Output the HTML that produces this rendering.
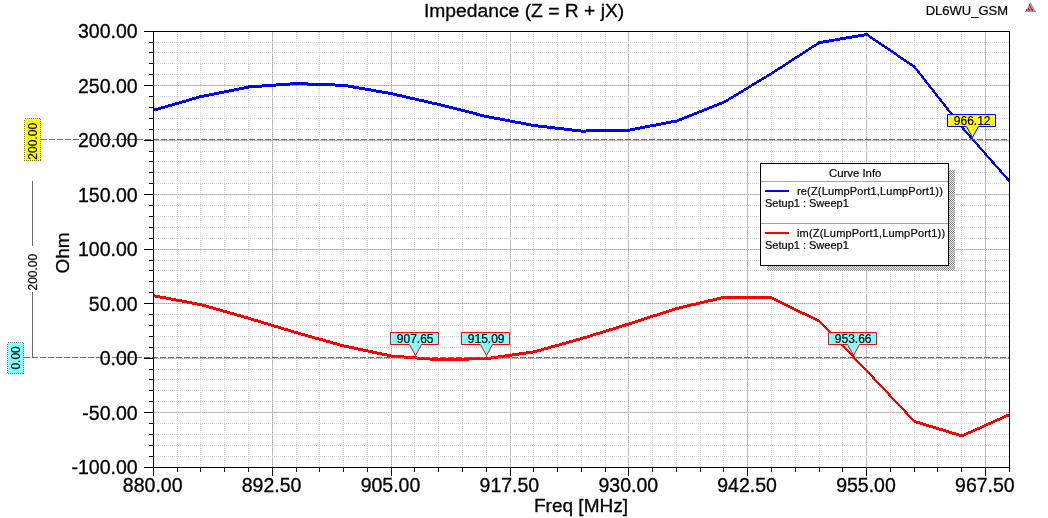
<!DOCTYPE html>
<html><head><meta charset="utf-8"><title>Impedance</title>
<style>html,body{margin:0;padding:0;background:#fff;overflow:hidden;}svg{display:block;will-change:transform;}text{font-family:"Liberation Sans",sans-serif;fill:#000;stroke:#000;stroke-width:0.3px;}text.s{stroke-width:0.2px;}</style></head><body>
<svg width="1048" height="518" viewBox="0 0 1048 518">
<rect x="0" y="0" width="1048" height="518" fill="#fff"/>
<g shape-rendering="crispEdges" fill="none" stroke-width="1">
<line x1="177.5" y1="32.0" x2="177.5" y2="467.5" stroke="#d4d4d8" stroke-dasharray="1 1"/>
<line x1="200.5" y1="32.0" x2="200.5" y2="467.5" stroke="#d4d4d8" stroke-dasharray="1 1"/>
<line x1="224.5" y1="32.0" x2="224.5" y2="467.5" stroke="#d4d4d8" stroke-dasharray="1 1"/>
<line x1="248.5" y1="32.0" x2="248.5" y2="467.5" stroke="#d4d4d8" stroke-dasharray="1 1"/>
<line x1="272.5" y1="31.5" x2="272.5" y2="467.5" stroke="#d2cad2"/>
<line x1="272.5" y1="31.5" x2="272.5" y2="467.5" stroke="#b0a4b0" stroke-dasharray="1 1"/>
<line x1="296.5" y1="32.0" x2="296.5" y2="467.5" stroke="#d4d4d8" stroke-dasharray="1 1"/>
<line x1="319.5" y1="32.0" x2="319.5" y2="467.5" stroke="#d4d4d8" stroke-dasharray="1 1"/>
<line x1="343.5" y1="32.0" x2="343.5" y2="467.5" stroke="#d4d4d8" stroke-dasharray="1 1"/>
<line x1="367.5" y1="32.0" x2="367.5" y2="467.5" stroke="#d4d4d8" stroke-dasharray="1 1"/>
<line x1="391.5" y1="31.5" x2="391.5" y2="467.5" stroke="#d2cad2"/>
<line x1="391.5" y1="31.5" x2="391.5" y2="467.5" stroke="#b0a4b0" stroke-dasharray="1 1"/>
<line x1="414.5" y1="32.0" x2="414.5" y2="467.5" stroke="#d4d4d8" stroke-dasharray="1 1"/>
<line x1="438.5" y1="32.0" x2="438.5" y2="467.5" stroke="#d4d4d8" stroke-dasharray="1 1"/>
<line x1="462.5" y1="32.0" x2="462.5" y2="467.5" stroke="#d4d4d8" stroke-dasharray="1 1"/>
<line x1="486.5" y1="32.0" x2="486.5" y2="467.5" stroke="#d4d4d8" stroke-dasharray="1 1"/>
<line x1="510.5" y1="31.5" x2="510.5" y2="467.5" stroke="#d2cad2"/>
<line x1="510.5" y1="31.5" x2="510.5" y2="467.5" stroke="#b0a4b0" stroke-dasharray="1 1"/>
<line x1="533.5" y1="32.0" x2="533.5" y2="467.5" stroke="#d4d4d8" stroke-dasharray="1 1"/>
<line x1="557.5" y1="32.0" x2="557.5" y2="467.5" stroke="#d4d4d8" stroke-dasharray="1 1"/>
<line x1="581.5" y1="32.0" x2="581.5" y2="467.5" stroke="#d4d4d8" stroke-dasharray="1 1"/>
<line x1="605.5" y1="32.0" x2="605.5" y2="467.5" stroke="#d4d4d8" stroke-dasharray="1 1"/>
<line x1="628.5" y1="31.5" x2="628.5" y2="467.5" stroke="#d2cad2"/>
<line x1="628.5" y1="31.5" x2="628.5" y2="467.5" stroke="#b0a4b0" stroke-dasharray="1 1"/>
<line x1="652.5" y1="32.0" x2="652.5" y2="467.5" stroke="#d4d4d8" stroke-dasharray="1 1"/>
<line x1="676.5" y1="32.0" x2="676.5" y2="467.5" stroke="#d4d4d8" stroke-dasharray="1 1"/>
<line x1="700.5" y1="32.0" x2="700.5" y2="467.5" stroke="#d4d4d8" stroke-dasharray="1 1"/>
<line x1="723.5" y1="32.0" x2="723.5" y2="467.5" stroke="#d4d4d8" stroke-dasharray="1 1"/>
<line x1="747.5" y1="31.5" x2="747.5" y2="467.5" stroke="#d2cad2"/>
<line x1="747.5" y1="31.5" x2="747.5" y2="467.5" stroke="#b0a4b0" stroke-dasharray="1 1"/>
<line x1="771.5" y1="32.0" x2="771.5" y2="467.5" stroke="#d4d4d8" stroke-dasharray="1 1"/>
<line x1="795.5" y1="32.0" x2="795.5" y2="467.5" stroke="#d4d4d8" stroke-dasharray="1 1"/>
<line x1="819.5" y1="32.0" x2="819.5" y2="467.5" stroke="#d4d4d8" stroke-dasharray="1 1"/>
<line x1="842.5" y1="32.0" x2="842.5" y2="467.5" stroke="#d4d4d8" stroke-dasharray="1 1"/>
<line x1="866.5" y1="31.5" x2="866.5" y2="467.5" stroke="#d2cad2"/>
<line x1="866.5" y1="31.5" x2="866.5" y2="467.5" stroke="#b0a4b0" stroke-dasharray="1 1"/>
<line x1="890.5" y1="32.0" x2="890.5" y2="467.5" stroke="#d4d4d8" stroke-dasharray="1 1"/>
<line x1="914.5" y1="32.0" x2="914.5" y2="467.5" stroke="#d4d4d8" stroke-dasharray="1 1"/>
<line x1="937.5" y1="32.0" x2="937.5" y2="467.5" stroke="#d4d4d8" stroke-dasharray="1 1"/>
<line x1="961.5" y1="32.0" x2="961.5" y2="467.5" stroke="#d4d4d8" stroke-dasharray="1 1"/>
<line x1="985.5" y1="31.5" x2="985.5" y2="467.5" stroke="#d2cad2"/>
<line x1="985.5" y1="31.5" x2="985.5" y2="467.5" stroke="#b0a4b0" stroke-dasharray="1 1"/>
<line x1="154.0" y1="42.5" x2="1009.5" y2="42.5" stroke="#d4d4d8" stroke-dasharray="1 1"/>
<line x1="154.0" y1="52.5" x2="1009.5" y2="52.5" stroke="#d4d4d8" stroke-dasharray="1 1"/>
<line x1="154.0" y1="63.5" x2="1009.5" y2="63.5" stroke="#d4d4d8" stroke-dasharray="1 1"/>
<line x1="154.0" y1="74.5" x2="1009.5" y2="74.5" stroke="#d4d4d8" stroke-dasharray="1 1"/>
<line x1="153.5" y1="85.5" x2="1009.5" y2="85.5" stroke="#d2cad2"/>
<line x1="153.5" y1="85.5" x2="1009.5" y2="85.5" stroke="#b0a4b0" stroke-dasharray="1 1"/>
<line x1="154.0" y1="96.5" x2="1009.5" y2="96.5" stroke="#d4d4d8" stroke-dasharray="1 1"/>
<line x1="154.0" y1="107.5" x2="1009.5" y2="107.5" stroke="#d4d4d8" stroke-dasharray="1 1"/>
<line x1="154.0" y1="118.5" x2="1009.5" y2="118.5" stroke="#d4d4d8" stroke-dasharray="1 1"/>
<line x1="154.0" y1="129.5" x2="1009.5" y2="129.5" stroke="#d4d4d8" stroke-dasharray="1 1"/>
<line x1="153.5" y1="140.5" x2="1009.5" y2="140.5" stroke="#d2cad2"/>
<line x1="153.5" y1="140.5" x2="1009.5" y2="140.5" stroke="#b0a4b0" stroke-dasharray="1 1"/>
<line x1="154.0" y1="151.5" x2="1009.5" y2="151.5" stroke="#d4d4d8" stroke-dasharray="1 1"/>
<line x1="154.0" y1="161.5" x2="1009.5" y2="161.5" stroke="#d4d4d8" stroke-dasharray="1 1"/>
<line x1="154.0" y1="172.5" x2="1009.5" y2="172.5" stroke="#d4d4d8" stroke-dasharray="1 1"/>
<line x1="154.0" y1="183.5" x2="1009.5" y2="183.5" stroke="#d4d4d8" stroke-dasharray="1 1"/>
<line x1="153.5" y1="194.5" x2="1009.5" y2="194.5" stroke="#d2cad2"/>
<line x1="153.5" y1="194.5" x2="1009.5" y2="194.5" stroke="#b0a4b0" stroke-dasharray="1 1"/>
<line x1="154.0" y1="205.5" x2="1009.5" y2="205.5" stroke="#d4d4d8" stroke-dasharray="1 1"/>
<line x1="154.0" y1="216.5" x2="1009.5" y2="216.5" stroke="#d4d4d8" stroke-dasharray="1 1"/>
<line x1="154.0" y1="227.5" x2="1009.5" y2="227.5" stroke="#d4d4d8" stroke-dasharray="1 1"/>
<line x1="154.0" y1="238.5" x2="1009.5" y2="238.5" stroke="#d4d4d8" stroke-dasharray="1 1"/>
<line x1="153.5" y1="249.5" x2="1009.5" y2="249.5" stroke="#d2cad2"/>
<line x1="153.5" y1="249.5" x2="1009.5" y2="249.5" stroke="#b0a4b0" stroke-dasharray="1 1"/>
<line x1="154.0" y1="260.5" x2="1009.5" y2="260.5" stroke="#d4d4d8" stroke-dasharray="1 1"/>
<line x1="154.0" y1="270.5" x2="1009.5" y2="270.5" stroke="#d4d4d8" stroke-dasharray="1 1"/>
<line x1="154.0" y1="281.5" x2="1009.5" y2="281.5" stroke="#d4d4d8" stroke-dasharray="1 1"/>
<line x1="154.0" y1="292.5" x2="1009.5" y2="292.5" stroke="#d4d4d8" stroke-dasharray="1 1"/>
<line x1="153.5" y1="303.5" x2="1009.5" y2="303.5" stroke="#d2cad2"/>
<line x1="153.5" y1="303.5" x2="1009.5" y2="303.5" stroke="#b0a4b0" stroke-dasharray="1 1"/>
<line x1="154.0" y1="314.5" x2="1009.5" y2="314.5" stroke="#d4d4d8" stroke-dasharray="1 1"/>
<line x1="154.0" y1="325.5" x2="1009.5" y2="325.5" stroke="#d4d4d8" stroke-dasharray="1 1"/>
<line x1="154.0" y1="336.5" x2="1009.5" y2="336.5" stroke="#d4d4d8" stroke-dasharray="1 1"/>
<line x1="154.0" y1="347.5" x2="1009.5" y2="347.5" stroke="#d4d4d8" stroke-dasharray="1 1"/>
<line x1="153.5" y1="358.5" x2="1009.5" y2="358.5" stroke="#d2cad2"/>
<line x1="153.5" y1="358.5" x2="1009.5" y2="358.5" stroke="#b0a4b0" stroke-dasharray="1 1"/>
<line x1="154.0" y1="369.5" x2="1009.5" y2="369.5" stroke="#d4d4d8" stroke-dasharray="1 1"/>
<line x1="154.0" y1="379.5" x2="1009.5" y2="379.5" stroke="#d4d4d8" stroke-dasharray="1 1"/>
<line x1="154.0" y1="390.5" x2="1009.5" y2="390.5" stroke="#d4d4d8" stroke-dasharray="1 1"/>
<line x1="154.0" y1="401.5" x2="1009.5" y2="401.5" stroke="#d4d4d8" stroke-dasharray="1 1"/>
<line x1="153.5" y1="412.5" x2="1009.5" y2="412.5" stroke="#d2cad2"/>
<line x1="153.5" y1="412.5" x2="1009.5" y2="412.5" stroke="#b0a4b0" stroke-dasharray="1 1"/>
<line x1="154.0" y1="423.5" x2="1009.5" y2="423.5" stroke="#d4d4d8" stroke-dasharray="1 1"/>
<line x1="154.0" y1="434.5" x2="1009.5" y2="434.5" stroke="#d4d4d8" stroke-dasharray="1 1"/>
<line x1="154.0" y1="445.5" x2="1009.5" y2="445.5" stroke="#d4d4d8" stroke-dasharray="1 1"/>
<line x1="154.0" y1="456.5" x2="1009.5" y2="456.5" stroke="#d4d4d8" stroke-dasharray="1 1"/>
</g>
<defs><clipPath id="plotclip"><rect x="153.0" y="31.0" width="857.0" height="437.0"/></clipPath></defs>
<g clip-path="url(#plotclip)" stroke="#0000ff" stroke-linecap="round" fill="none" shape-rendering="crispEdges">
<line x1="153.5" y1="110.3" x2="201.1" y2="96.5" stroke-width="2.88"/>
<line x1="201.1" y1="96.5" x2="248.6" y2="87.0" stroke-width="2.94"/>
<line x1="248.6" y1="87.0" x2="296.2" y2="83.6" stroke-width="2.99"/>
<line x1="296.2" y1="83.6" x2="343.7" y2="85.3" stroke-width="3.00"/>
<line x1="343.7" y1="85.3" x2="391.3" y2="93.6" stroke-width="2.96"/>
<line x1="391.3" y1="93.6" x2="438.8" y2="104.5" stroke-width="2.92"/>
<line x1="438.8" y1="104.5" x2="486.4" y2="116.5" stroke-width="2.91"/>
<line x1="486.4" y1="116.5" x2="533.9" y2="125.5" stroke-width="2.95"/>
<line x1="533.9" y1="125.5" x2="581.5" y2="131.1" stroke-width="2.98"/>
<line x1="581.5" y1="131.1" x2="629.1" y2="130.1" stroke-width="3.00"/>
<line x1="629.1" y1="130.1" x2="676.6" y2="121.0" stroke-width="2.95"/>
<line x1="676.6" y1="121.0" x2="724.2" y2="102.1" stroke-width="2.79"/>
<line x1="724.2" y1="102.1" x2="771.7" y2="73.4" stroke-width="2.57"/>
<line x1="771.7" y1="73.4" x2="819.3" y2="42.6" stroke-width="2.52"/>
<line x1="819.3" y1="42.6" x2="866.8" y2="34.5" stroke-width="2.96"/>
<line x1="866.8" y1="34.5" x2="914.4" y2="66.8" stroke-width="2.48"/>
<line x1="914.4" y1="66.8" x2="961.9" y2="127.2" stroke-width="2.36"/>
<line x1="961.9" y1="127.2" x2="1009.5" y2="181.2" stroke-width="2.25"/>
</g>
<g clip-path="url(#plotclip)" stroke="#ff0000" stroke-linecap="round" fill="none" shape-rendering="crispEdges">
<line x1="153.5" y1="295.7" x2="201.1" y2="304.7" stroke-width="2.95"/>
<line x1="201.1" y1="304.7" x2="248.6" y2="318.3" stroke-width="2.88"/>
<line x1="248.6" y1="318.3" x2="296.2" y2="332.6" stroke-width="2.87"/>
<line x1="296.2" y1="332.6" x2="343.7" y2="345.9" stroke-width="2.89"/>
<line x1="343.7" y1="345.9" x2="391.3" y2="356.0" stroke-width="2.94"/>
<line x1="391.3" y1="356.0" x2="438.8" y2="359.7" stroke-width="2.99"/>
<line x1="438.8" y1="359.7" x2="486.4" y2="358.6" stroke-width="3.00"/>
<line x1="486.4" y1="358.6" x2="533.9" y2="351.9" stroke-width="2.97"/>
<line x1="533.9" y1="351.9" x2="581.5" y2="338.6" stroke-width="2.89"/>
<line x1="581.5" y1="338.6" x2="629.1" y2="323.9" stroke-width="2.87"/>
<line x1="629.1" y1="323.9" x2="676.6" y2="308.5" stroke-width="2.85"/>
<line x1="676.6" y1="308.5" x2="724.2" y2="297.3" stroke-width="2.92"/>
<line x1="724.2" y1="297.3" x2="771.7" y2="298.0" stroke-width="3.00"/>
<line x1="771.7" y1="298.0" x2="819.3" y2="321.2" stroke-width="2.70"/>
<line x1="819.3" y1="321.2" x2="866.8" y2="370.9" stroke-width="2.17"/>
<line x1="866.8" y1="370.9" x2="914.4" y2="421.4" stroke-width="2.18"/>
<line x1="914.4" y1="421.4" x2="961.9" y2="435.9" stroke-width="2.87"/>
<line x1="961.9" y1="435.9" x2="1009.5" y2="414.6" stroke-width="2.74"/>
</g>
<g shape-rendering="crispEdges" fill="none" stroke="#6c6c6c" stroke-width="1">
<line x1="41" y1="139.5" x2="1009.5" y2="139.5" stroke-dasharray="6 2"/>
<line x1="24" y1="357.5" x2="1009.5" y2="357.5" stroke-dasharray="6 2"/>
<line x1="32.5" y1="181" x2="32.5" y2="246"/>
<line x1="32.5" y1="292" x2="32.5" y2="357.5"/>
</g>
<g shape-rendering="crispEdges" fill="none" stroke="#000" stroke-width="1">
<rect x="153.5" y="31.5" width="856.0" height="436.0"/>
<line x1="144" y1="31.5" x2="153.5" y2="31.5"/>
<line x1="149" y1="42.5" x2="153.5" y2="42.5"/>
<line x1="149" y1="52.5" x2="153.5" y2="52.5"/>
<line x1="149" y1="63.5" x2="153.5" y2="63.5"/>
<line x1="149" y1="74.5" x2="153.5" y2="74.5"/>
<line x1="144" y1="85.5" x2="153.5" y2="85.5"/>
<line x1="149" y1="96.5" x2="153.5" y2="96.5"/>
<line x1="149" y1="107.5" x2="153.5" y2="107.5"/>
<line x1="149" y1="118.5" x2="153.5" y2="118.5"/>
<line x1="149" y1="129.5" x2="153.5" y2="129.5"/>
<line x1="144" y1="140.5" x2="153.5" y2="140.5"/>
<line x1="149" y1="151.5" x2="153.5" y2="151.5"/>
<line x1="149" y1="161.5" x2="153.5" y2="161.5"/>
<line x1="149" y1="172.5" x2="153.5" y2="172.5"/>
<line x1="149" y1="183.5" x2="153.5" y2="183.5"/>
<line x1="144" y1="194.5" x2="153.5" y2="194.5"/>
<line x1="149" y1="205.5" x2="153.5" y2="205.5"/>
<line x1="149" y1="216.5" x2="153.5" y2="216.5"/>
<line x1="149" y1="227.5" x2="153.5" y2="227.5"/>
<line x1="149" y1="238.5" x2="153.5" y2="238.5"/>
<line x1="144" y1="249.5" x2="153.5" y2="249.5"/>
<line x1="149" y1="260.5" x2="153.5" y2="260.5"/>
<line x1="149" y1="270.5" x2="153.5" y2="270.5"/>
<line x1="149" y1="281.5" x2="153.5" y2="281.5"/>
<line x1="149" y1="292.5" x2="153.5" y2="292.5"/>
<line x1="144" y1="303.5" x2="153.5" y2="303.5"/>
<line x1="149" y1="314.5" x2="153.5" y2="314.5"/>
<line x1="149" y1="325.5" x2="153.5" y2="325.5"/>
<line x1="149" y1="336.5" x2="153.5" y2="336.5"/>
<line x1="149" y1="347.5" x2="153.5" y2="347.5"/>
<line x1="144" y1="358.5" x2="153.5" y2="358.5"/>
<line x1="149" y1="369.5" x2="153.5" y2="369.5"/>
<line x1="149" y1="379.5" x2="153.5" y2="379.5"/>
<line x1="149" y1="390.5" x2="153.5" y2="390.5"/>
<line x1="149" y1="401.5" x2="153.5" y2="401.5"/>
<line x1="144" y1="412.5" x2="153.5" y2="412.5"/>
<line x1="149" y1="423.5" x2="153.5" y2="423.5"/>
<line x1="149" y1="434.5" x2="153.5" y2="434.5"/>
<line x1="149" y1="445.5" x2="153.5" y2="445.5"/>
<line x1="149" y1="456.5" x2="153.5" y2="456.5"/>
<line x1="144" y1="467.5" x2="153.5" y2="467.5"/>
<line x1="153.5" y1="467.5" x2="153.5" y2="476"/>
<line x1="177.5" y1="467.5" x2="177.5" y2="472"/>
<line x1="200.5" y1="467.5" x2="200.5" y2="472"/>
<line x1="224.5" y1="467.5" x2="224.5" y2="472"/>
<line x1="248.5" y1="467.5" x2="248.5" y2="472"/>
<line x1="272.5" y1="467.5" x2="272.5" y2="476"/>
<line x1="296.5" y1="467.5" x2="296.5" y2="472"/>
<line x1="319.5" y1="467.5" x2="319.5" y2="472"/>
<line x1="343.5" y1="467.5" x2="343.5" y2="472"/>
<line x1="367.5" y1="467.5" x2="367.5" y2="472"/>
<line x1="391.5" y1="467.5" x2="391.5" y2="476"/>
<line x1="414.5" y1="467.5" x2="414.5" y2="472"/>
<line x1="438.5" y1="467.5" x2="438.5" y2="472"/>
<line x1="462.5" y1="467.5" x2="462.5" y2="472"/>
<line x1="486.5" y1="467.5" x2="486.5" y2="472"/>
<line x1="510.5" y1="467.5" x2="510.5" y2="476"/>
<line x1="533.5" y1="467.5" x2="533.5" y2="472"/>
<line x1="557.5" y1="467.5" x2="557.5" y2="472"/>
<line x1="581.5" y1="467.5" x2="581.5" y2="472"/>
<line x1="605.5" y1="467.5" x2="605.5" y2="472"/>
<line x1="628.5" y1="467.5" x2="628.5" y2="476"/>
<line x1="652.5" y1="467.5" x2="652.5" y2="472"/>
<line x1="676.5" y1="467.5" x2="676.5" y2="472"/>
<line x1="700.5" y1="467.5" x2="700.5" y2="472"/>
<line x1="723.5" y1="467.5" x2="723.5" y2="472"/>
<line x1="747.5" y1="467.5" x2="747.5" y2="476"/>
<line x1="771.5" y1="467.5" x2="771.5" y2="472"/>
<line x1="795.5" y1="467.5" x2="795.5" y2="472"/>
<line x1="819.5" y1="467.5" x2="819.5" y2="472"/>
<line x1="842.5" y1="467.5" x2="842.5" y2="472"/>
<line x1="866.5" y1="467.5" x2="866.5" y2="476"/>
<line x1="890.5" y1="467.5" x2="890.5" y2="472"/>
<line x1="914.5" y1="467.5" x2="914.5" y2="472"/>
<line x1="937.5" y1="467.5" x2="937.5" y2="472"/>
<line x1="961.5" y1="467.5" x2="961.5" y2="472"/>
<line x1="985.5" y1="467.5" x2="985.5" y2="476"/>
<line x1="1009.5" y1="467.5" x2="1009.5" y2="472"/>
</g>
<text x="137.6" y="38.0" font-size="19.5" text-anchor="end">300.00</text>
<text x="137.6" y="92.5" font-size="19.5" text-anchor="end">250.00</text>
<text x="137.6" y="147.0" font-size="19.5" text-anchor="end">200.00</text>
<text x="137.6" y="201.5" font-size="19.5" text-anchor="end">150.00</text>
<text x="137.6" y="256.0" font-size="19.5" text-anchor="end">100.00</text>
<text x="137.6" y="310.5" font-size="19.5" text-anchor="end">50.00</text>
<text x="137.6" y="365.0" font-size="19.5" text-anchor="end">0.00</text>
<text x="137.6" y="419.5" font-size="19.5" text-anchor="end">-50.00</text>
<text x="137.6" y="474.0" font-size="19.5" text-anchor="end">-100.00</text>
<text x="152.7" y="492" font-size="19.5" text-anchor="middle">880.00</text>
<text x="271.6" y="492" font-size="19.5" text-anchor="middle">892.50</text>
<text x="390.5" y="492" font-size="19.5" text-anchor="middle">905.00</text>
<text x="509.4" y="492" font-size="19.5" text-anchor="middle">917.50</text>
<text x="628.3" y="492" font-size="19.5" text-anchor="middle">930.00</text>
<text x="747.1" y="492" font-size="19.5" text-anchor="middle">942.50</text>
<text x="866.0" y="492" font-size="19.5" text-anchor="middle">955.00</text>
<text x="984.9" y="492" font-size="19.5" text-anchor="middle">967.50</text>
<text x="524.1" y="16.6" font-size="19.27" text-anchor="middle">Impedance (Z = R + jX)</text>
<text x="581" y="511.6" font-size="19" text-anchor="middle">Freq [MHz]</text>
<text transform="translate(69,253) rotate(-90)" font-size="19" text-anchor="middle">Ohm</text>
<text x="1008" y="14.5" class="s" font-size="13" text-anchor="end">DL6WU_GSM</text>
<g shape-rendering="crispEdges">
<path d="M1030.5 2 L1036 12 L1025 12 Z" fill="#9ca0ac" shape-rendering="auto"/>
<rect x="1029" y="4" width="1" height="2" fill="#ff0000"/>
<rect x="1030" y="6" width="1" height="2" fill="#ff0000"/>
<rect x="1028" y="8" width="1" height="1.5" fill="#ff0000"/>
<rect x="1031" y="8" width="1" height="1.5" fill="#ff0000"/>
<rect x="1026" y="9" width="1" height="2" fill="#ff0000"/>
<rect x="1029" y="9" width="1" height="2" fill="#ff0000"/>
<rect x="1032" y="9" width="1" height="2" fill="#ff0000"/>
<rect x="1025" y="11" width="1" height="1" fill="#8c7c9c"/>
<rect x="1028" y="11" width="1" height="1" fill="#8c7c9c"/>
<rect x="1032" y="11" width="1" height="1" fill="#8c7c9c"/>
<rect x="1035" y="11" width="1" height="1" fill="#8c7c9c"/>
</g>
<rect x="24.5" y="118.5" width="16" height="42" fill="#ffff00" stroke="#6a6a70" stroke-width="1" stroke-dasharray="1 1" shape-rendering="crispEdges"/>
<text transform="translate(37,141.3) rotate(-90)" class="s" font-size="12" text-anchor="middle">200.00</text>
<rect x="7.5" y="342.5" width="16" height="31" fill="#80ffff" stroke="#6a6a70" stroke-width="1" stroke-dasharray="1 1" shape-rendering="crispEdges"/>
<text transform="translate(20.2,357.9) rotate(-90)" class="s" font-size="12" text-anchor="middle">0.00</text>
<text transform="translate(37,272.2) rotate(-90)" class="s" font-size="12" text-anchor="middle">200.00</text>
<g><path d="M390.5 332.5 h48 v12 H421.5 L415.5 355.5 L409.5 344.5 H390.5 Z" fill="#80ffff" stroke="#ff0000" stroke-width="1"/>
<line x1="415.5" y1="355.5" x2="415.5" y2="358.0" stroke="#ff0000" stroke-width="1" shape-rendering="crispEdges"/>
<text x="415.2" y="342.6" class="s" font-size="12" text-anchor="middle">907.65</text></g>
<g><path d="M461.5 332.5 h48 v12 H492.5 L486.5 355.5 L480.5 344.5 H461.5 Z" fill="#80ffff" stroke="#ff0000" stroke-width="1"/>
<line x1="486.5" y1="355.5" x2="486.5" y2="358.0" stroke="#ff0000" stroke-width="1" shape-rendering="crispEdges"/>
<text x="486.2" y="342.6" class="s" font-size="12" text-anchor="middle">915.09</text></g>
<g><path d="M828.5 332.5 h48 v12 H859.5 L853.5 355.5 L847.5 344.5 H828.5 Z" fill="#80ffff" stroke="#ff0000" stroke-width="1"/>
<line x1="853.5" y1="355.5" x2="853.5" y2="358.0" stroke="#ff0000" stroke-width="1" shape-rendering="crispEdges"/>
<text x="853.2" y="342.6" class="s" font-size="12" text-anchor="middle">953.66</text></g>
<g><path d="M947.5 114.5 h48 v12 H978.5 L972.5 137.5 L966.5 126.5 H947.5 Z" fill="#ffff00" stroke="#0000ff" stroke-width="1"/>
<line x1="972.5" y1="137.5" x2="972.5" y2="140.0" stroke="#0000ff" stroke-width="1" shape-rendering="crispEdges"/>
<text x="972.2" y="124.6" class="s" font-size="12" text-anchor="middle">966.12</text></g>
<defs><pattern id="chk" x="0" y="0" width="2" height="2" patternUnits="userSpaceOnUse"><rect x="0" y="0" width="2" height="2" fill="#eeeaee"/><rect x="0" y="0" width="1" height="1" fill="#8c8c8c"/><rect x="1" y="1" width="1" height="1" fill="#8c8c8c"/></pattern></defs>
<rect x="767" y="170" width="188" height="101" fill="url(#chk)" shape-rendering="crispEdges"/>
<rect x="760.5" y="163.5" width="188" height="102" fill="#fff" stroke="#000" stroke-width="1" shape-rendering="crispEdges"/>
<line x1="761" y1="181.5" x2="948" y2="181.5" stroke="#a8a0a8" stroke-width="1" shape-rendering="crispEdges"/>
<line x1="761" y1="223.5" x2="948" y2="223.5" stroke="#a8a0a8" stroke-width="1" shape-rendering="crispEdges"/>
<text x="855.2" y="177" class="s" font-size="11.4" text-anchor="middle">Curve Info</text>
<line x1="765" y1="191" x2="789" y2="191" stroke="#0000ff" stroke-width="2" shape-rendering="crispEdges"/>
<text x="797" y="195" class="s" font-size="11" textLength="145.8">re(Z(LumpPort1,LumpPort1))</text>
<text x="765" y="207" class="s" font-size="11">Setup1 : Sweep1</text>
<line x1="765" y1="233" x2="789" y2="233" stroke="#ff0000" stroke-width="2" shape-rendering="crispEdges"/>
<text x="797" y="237" class="s" font-size="11" textLength="148.1">im(Z(LumpPort1,LumpPort1))</text>
<text x="765" y="249" class="s" font-size="11">Setup1 : Sweep1</text>
</svg></body></html>
